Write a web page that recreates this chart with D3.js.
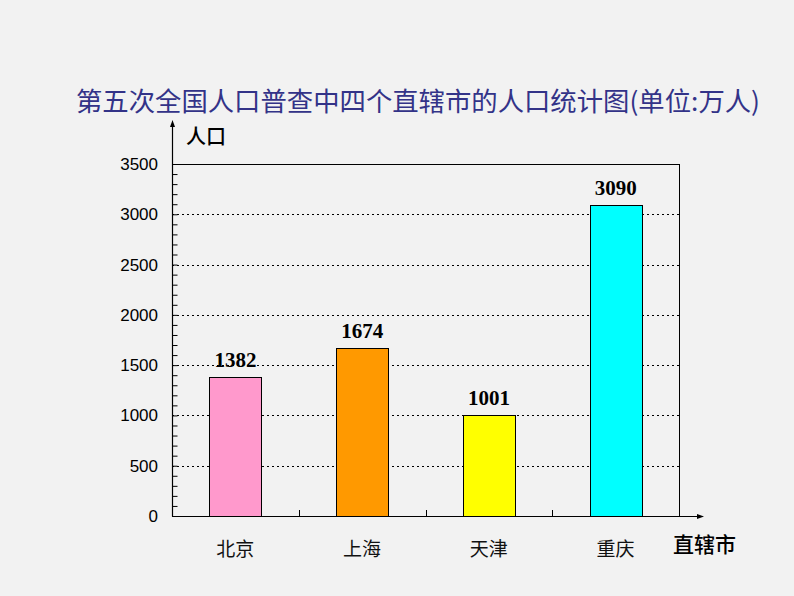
<!DOCTYPE html>
<html><head><meta charset="utf-8">
<script src="https://cdn.jsdelivr.net/npm/d3@7"></script>
<style>body{margin:0;background:#f2f2f2;}svg{display:block;}</style>
</head><body>
<svg id="c" width="794" height="596"></svg>
<script>
const title = "第五次全国人口普查中四个直辖市的人口统计图(单位:万人)";
const categories = ["北京", "上海", "天津", "重庆"];
const values = [1382, 1674, 1001, 3090];
const colors = ["#ff99cc", "#ff9900", "#ffff00", "#00ffff"];
const yTicks = [0, 500, 1000, 1500, 2000, 2500, 3000, 3500];
const yLabel = "人口";
const xLabel = "直辖市";

const svg = d3.select("#c");
svg.append("rect").attr("width", 794).attr("height", 596).attr("fill", "#f2f2f2");

const L = 172, R = 679, T = 164, B = 516;
const x = d3.scaleBand().domain(categories).range([L, R]).paddingInner(0.59).paddingOuter(0.295);
const xb = d3.scaleBand().domain(categories).range([L, R]);
const y = d3.scaleLinear().domain([0, 3500]).range([B, T]);

// gridlines
svg.append("g").selectAll("line").data(yTicks.filter(t => t > 0 && t < 3500)).join("line")
  .attr("x1", L).attr("x2", R).attr("y1", d => Math.round(y(d)) + 0.5).attr("y2", d => Math.round(y(d)) + 0.5)
  .attr("stroke", "#000").attr("stroke-width", 1).attr("stroke-dasharray", "2,3");
// top and right border
svg.append("line").attr("x1", L).attr("x2", R + 0.5).attr("y1", T + 0.5).attr("y2", T + 0.5).attr("stroke", "#000");
svg.append("line").attr("x1", R + 0.5).attr("x2", R + 0.5).attr("y1", T).attr("y2", B).attr("stroke", "#000");

// bars
svg.append("g").selectAll("rect").data(categories).join("rect")
  .attr("x", d => Math.round(x(d)) + 0.5).attr("width", Math.round(x.bandwidth()))
  .attr("y", (d, i) => Math.round(y(values[i])) + 0.5)
  .attr("height", (d, i) => B - Math.round(y(values[i])))
  .attr("fill", (d, i) => colors[i]).attr("stroke", "#000").attr("stroke-width", 1);

// value labels
svg.append("g").selectAll("text").data(categories).join("text")
  .attr("x", d => x(d) + x.bandwidth() / 2).attr("y", (d, i) => y(values[i]) - 10)
  .attr("text-anchor", "middle").attr("font-family", "Liberation Serif").attr("font-weight", "bold")
  .attr("font-size", 21).text((d, i) => values[i]);

// y axis with minor ticks
const yAxisG = svg.append("g").attr("transform", `translate(${L + 0.5},0)`);
yAxisG.call(d3.axisLeft(y).tickValues(d3.range(0, 3501, 100)).tickSize(-5).tickFormat(""));
yAxisG.select(".domain").remove();
yAxisG.selectAll("line").attr("stroke", "#000");
svg.append("g").selectAll("text").data(yTicks).join("text")
  .attr("x", 158).attr("y", d => y(d) + 6).attr("text-anchor", "end")
  .attr("font-family", "Liberation Sans").attr("font-size", 17).text(d => d);

// x axis with category separator ticks
const xTicks = categories.slice(1).map(c => xb(c));
svg.append("g").selectAll("line").data(xTicks).join("line")
  .attr("x1", d => Math.round(d) + 0.5).attr("x2", d => Math.round(d) + 0.5).attr("y1", B).attr("y2", B - 6).attr("stroke", "#000");

// axis lines with arrows
svg.append("line").attr("x1", L + 0.5).attr("x2", L + 0.5).attr("y1", B + 0.5).attr("y2", 124).attr("stroke", "#000").attr("stroke-width", 1.2);
svg.append("path").attr("d", `M${L + 0.5},120 L${L - 2},127 L${L + 3},127 Z`).attr("fill", "#000");
svg.append("line").attr("x1", L).attr("x2", 700).attr("y1", B + 0.5).attr("y2", B + 0.5).attr("stroke", "#000").attr("stroke-width", 1.2);
svg.append("path").attr("d", `M704,${B + 0.5} L697,${B - 2} L697,${B + 3} Z`).attr("fill", "#000");

// category labels
svg.append("g").selectAll("text").data(categories).join("text")
  .attr("x", d => x(d) + x.bandwidth() / 2).attr("y", 556).attr("text-anchor", "middle")
  .attr("font-family", "Noto Sans CJK SC").attr("font-size", 19).attr("fill", "#111").text(d => d);

// axis titles
svg.append("text").attr("x", 186).attr("y", 144).attr("font-family", "Noto Sans CJK SC")
  .attr("font-size", 20).attr("font-weight", 500).text(yLabel);
svg.append("text").attr("x", 673).attr("y", 552).attr("font-family", "Noto Sans CJK SC")
  .attr("font-size", 21).attr("font-weight", 500).text(xLabel);

// title
svg.append("text").attr("x", 76).attr("y", 111).attr("font-family", "Noto Sans CJK SC")
  .attr("font-size", 26).attr("fill", "#333388").attr("textLength", 684).attr("lengthAdjust", "spacingAndGlyphs")
  .text(title);
</script>
</body></html>
